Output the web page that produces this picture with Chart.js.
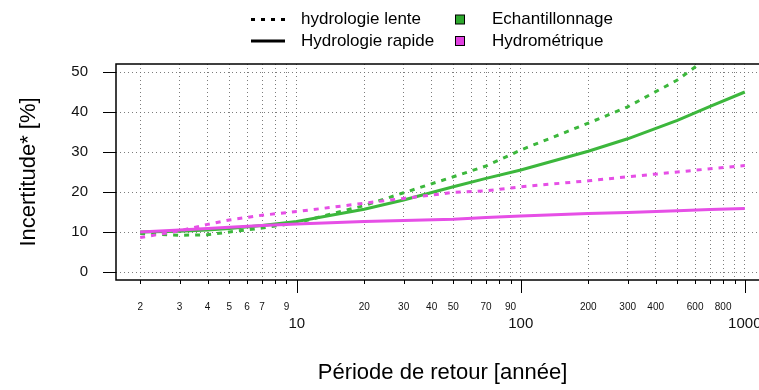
<!DOCTYPE html>
<html>
<head>
<meta charset="utf-8">
<script src="https://cdn.jsdelivr.net/npm/chart.js@4/dist/chart.umd.min.js"></script>
<style>
  html, body { margin: 0; padding: 0; background: #fff; overflow: hidden; }
  #wrap { width: 790px; height: 390px; }
</style>
</head>
<body>
<div id="wrap"><canvas id="myChart" width="790" height="390"></canvas></div>
<script>
// return periods (years)
var periods = [2, 3, 4, 5, 7, 10, 20, 30, 50, 70, 100, 200, 300, 500, 700, 1000];

// uncertainty [%]
var echRapide = [10, 10.2, 10.5, 10.9, 11.6, 12.6, 15.7, 18, 21.3, 23.4, 25.5, 30.2, 33.3, 37.9, 41.4, 45];
var echLente  = [9.6, 9.2, 9.3, 10, 11, 12.3, 16.6, 19.8, 23.8, 26.5, 30.5, 37.2, 41.3, 48, 54, 62];
var hydRapide = [10, 10.5, 10.9, 11.2, 11.6, 12, 12.6, 12.9, 13.2, 13.6, 14, 14.6, 14.9, 15.3, 15.6, 15.9];
var hydLente  = [8.6, 10.3, 11.9, 13, 14.2, 15.1, 17.2, 18.4, 19.9, 20.3, 21.3, 22.8, 23.8, 25, 25.8, 26.6];

var xTicks = [2, 3, 4, 5, 6, 7, 8, 9, 10, 20, 30, 40, 50, 60, 70, 80, 90, 100, 200, 300, 400, 500, 600, 700, 800, 900, 1000];
var xMinorLabels = [2, 3, 4, 5, 6, 7, 9, 20, 30, 40, 50, 70, 90, 200, 300, 400, 600, 800];
var xMajorLabels = [10, 100, 1000];
var yTicks = [0, 10, 20, 30, 40, 50];

var green = '#3cb73c';
var pink = '#e64fe6';
var gridColor = 'rgba(110,110,110,0.9)';
var fontFam = '"Liberation Sans", Arial, sans-serif';

function pts(vals) {
  return periods.map(function (p, i) { return {x: p, y: vals[i]}; });
}

// frame, x ticks/labels and legend drawn on top
var extras = {
  id: 'extras',
  afterDraw: function (chart) {
    var c = chart.ctx, a = chart.chartArea, xs = chart.scales.x;
    c.save();
    c.setLineDash([]);
    c.strokeStyle = '#000';
    c.lineWidth = 1.5;
    c.strokeRect(a.left, a.top, a.right - a.left, a.bottom - a.top);

    c.lineWidth = 1;
    xTicks.forEach(function (v) {
      var px = Math.round(xs.getPixelForValue(v)) + 0.5;
      var len = xMajorLabels.indexOf(v) >= 0 ? 13 : 4;
      c.beginPath();
      c.moveTo(px, a.bottom);
      c.lineTo(px, a.bottom + len);
      c.stroke();
    });
    c.fillStyle = '#111';
    c.textAlign = 'center';
    c.textBaseline = 'middle';
    c.font = '10px ' + fontFam;
    xMinorLabels.forEach(function (v) {
      c.fillText(String(v), xs.getPixelForValue(v), a.bottom + 27);
    });
    c.font = '15px ' + fontFam;
    xMajorLabels.forEach(function (v) {
      c.fillText(String(v), xs.getPixelForValue(v), a.bottom + 44);
    });

    // legend
    c.font = '17px ' + fontFam;
    c.textAlign = 'left';
    c.fillStyle = '#000';
    c.lineWidth = 3;
    c.setLineDash([4, 6]);
    c.beginPath(); c.moveTo(251, 19.5); c.lineTo(285, 19.5); c.stroke();
    c.setLineDash([]);
    c.beginPath(); c.moveTo(251, 41); c.lineTo(285, 41); c.stroke();
    c.fillText('hydrologie lente', 301, 19.5);
    c.fillText('Hydrologie rapide', 301, 41);
    c.lineWidth = 1;
    c.fillStyle = '#2ea82e';
    c.fillRect(455.5, 15, 9, 9); c.strokeRect(455.5, 15, 9, 9);
    c.fillStyle = '#e040e0';
    c.fillRect(455.5, 36.5, 9, 9); c.strokeRect(455.5, 36.5, 9, 9);
    c.fillStyle = '#000';
    c.fillText('Echantillonnage', 492, 19.5);
    c.fillText('Hydrométrique', 492, 41);
    c.restore();
  }
};

var ctx = document.getElementById('myChart').getContext('2d');
var myChart = new Chart(ctx, {
  type: 'line',
  data: {
    datasets: [{
        label: 'Hydrométrique - hydrologie lente',
        data: pts(hydLente),
        borderColor: pink,
        borderWidth: 3,
        borderDash: [5, 6],
        pointRadius: 0,
        fill: false
      }, {
        label: 'Hydrométrique - Hydrologie rapide',
        data: pts(hydRapide),
        borderColor: pink,
        borderWidth: 3,
        pointRadius: 0,
        fill: false
      }, {
        label: 'Echantillonnage - hydrologie lente',
        data: pts(echLente),
        borderColor: green,
        borderWidth: 3,
        borderDash: [5, 6],
        pointRadius: 0,
        fill: false
      }, {
        label: 'Echantillonnage - Hydrologie rapide',
        data: pts(echRapide),
        borderColor: green,
        borderWidth: 3,
        pointRadius: 0,
        fill: false
      }
    ]
  },
  options: {
    responsive: false,
    animation: false,
    layout: { padding: { top: 64, right: 21, left: 0, bottom: 0 } },
    plugins: {
      legend: { display: false },
      tooltip: { enabled: false }
    },
    scales: {
      x: {
        type: 'logarithmic',
        min: 1.5602,
        max: 1282.3,
        afterBuildTicks: function (s) { s.ticks = xTicks.map(function (v) { return {value: v}; }); },
        afterFit: function (s) { s.height = 110; },
        ticks: { display: false },
        grid: { color: gridColor, lineWidth: 1, drawTicks: false },
        border: { display: false, dash: [1, 3] },
        title: {
          display: true,
          text: 'Période de retour [année]',
          color: '#000',
          font: { size: 22, family: fontFam },
          padding: { top: 0, bottom: 4 }
        }
      },
      y: {
        min: -2,
        max: 52,
        afterBuildTicks: function (s) { s.ticks = yTicks.map(function (v) { return {value: v}; }); },
        afterFit: function (s) { s.width = 116; },
        ticks: { color: '#111', font: { size: 15, family: fontFam }, padding: 15 },
        grid: { color: gridColor, lineWidth: 1, tickLength: 13, tickColor: '#000', tickWidth: 1 },
        border: { display: false, dash: [1, 3] },
        title: {
          display: true,
          text: 'Incertitude* [%]',
          color: '#000',
          font: { size: 22, family: fontFam },
          padding: { top: 16, bottom: 0 }
        }
      }
    }
  },
  plugins: [extras]
});
</script>
</body>
</html>
